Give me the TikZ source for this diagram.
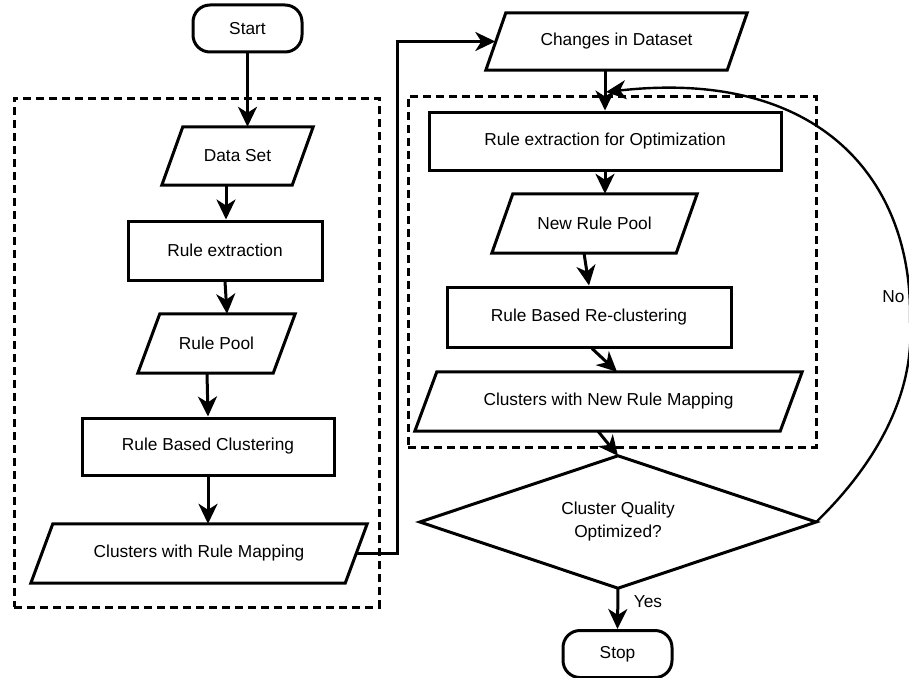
\documentclass[tikz,border=0pt]{standalone}
\usepackage{fontspec}
\setmainfont{Liberation Sans}
\usetikzlibrary{arrows.meta,calc}

\newcommand\lbl{\fontsize{17.3}{23}\selectfont}
% outline of a parallelogram laid over a plain (invisible) node
\newcommand\slantoutline[2]{%
  \draw[outline] ($(#1.north west)+(#2,0)$) -- (#1.north east)
    -- ($(#1.south east)-(#2,0)$) -- (#1.south west) -- cycle;}

\tikzset{
  outline/.style={line width=3pt, line join=miter},
  proc/.style={draw, outline, inner sep=0pt, font=\lbl},
  slant/.style={inner sep=0pt, font=\lbl},
  term/.style={draw, outline, rounded corners=17pt, inner sep=0pt,
    minimum width=109pt, minimum height=47pt, font=\lbl},
  group/.style={draw, line width=3pt, dash pattern=on 8pt off 5pt, inner sep=0pt},
  flow/.style={line width=3pt, -{Stealth[length=20pt,width=19pt,inset=6pt]}},
  loop/.style={line width=2.4pt, -{Stealth[length=20pt,width=19pt,inset=6pt]}},
}

\begin{document}
\begin{tikzpicture}[x=1pt, y=-1pt]
\fill[white] (0,0) rectangle (909,677);
\useasboundingbox (0,0) rectangle (909,677);

% dashed groupings
\node[group, minimum width=365pt, minimum height=509pt] (grpA) at (196.5,352.5) {};
\node[group, minimum width=408pt, minimum height=351pt] (grpB) at (612,271.5) {};

% left column
\node[term] (start) at (247.5,28.5) {Start};
\node[slant, minimum width=151pt, minimum height=58pt] (ds) at (237.5,156) {Data Set};
\node[proc, minimum width=194pt, minimum height=59pt] (re) at (225,250.5) {Rule extraction};
\node[slant, minimum width=157pt, minimum height=59pt] (rp) at (216.5,343.5) {Rule Pool};
\node[proc, minimum width=252pt, minimum height=57pt] (rbc) at (208,446.5) {Rule Based Clustering};
\node[slant, minimum width=336pt, minimum height=59pt] (crm) at (199,553.5) {Clusters with Rule Mapping};

% right column
\node[slant, minimum width=261pt, minimum height=57pt] (cid) at (616.5,41.5) {Changes in Dataset};
\node[proc, minimum width=352pt, minimum height=58pt] (reo) at (605,141) {Rule extraction for Optimization};
\node[slant, minimum width=205pt, minimum height=59pt] (nrp) at (594.5,223.5) {New Rule Pool};
\node[proc, minimum width=284pt, minimum height=60pt] (rbr) at (589,317) {Rule Based Re-clustering};
\node[slant, minimum width=387pt, minimum height=59pt] (cnr) at (608.5,401.5) {Clusters with New Rule Mapping};
\node[inner sep=0pt, minimum width=396pt, minimum height=132pt, align=center, font=\lbl]
  (dia) at (618,522) {Cluster Quality\\Optimized?};
\node[term] (stop) at (617.5,654) {Stop};

% parallelogram and decision outlines
\slantoutline{ds}{21}
\slantoutline{rp}{22}
\slantoutline{crm}{22}
\slantoutline{cid}{20}
\slantoutline{nrp}{21}
\slantoutline{cnr}{22}
\draw[outline] (dia.north) -- (dia.east) -- (dia.south) -- (dia.west) -- cycle;

% connectors, left column
\draw[flow] (start.south) -- (start.south |- ds.north);
\draw[flow] ([xshift=-11.5pt]ds.south) -- ([xshift=1pt]re.north);
\draw[flow] (re.south) -- ([xshift=10.5pt]rp.north);
\draw[flow] ([xshift=-9.5pt]rp.south) -- (rbc.north);
\draw[flow] (rbc.south) -- ([xshift=9pt]crm.north);

% hand-over to the second stage
\coordinate (jog) at (397,0);
\draw[flow, line join=miter] ([xshift=-11pt]crm.east) -| (jog |- cid.west) -- ([xshift=9.5pt]cid.west);

% connectors, right column
\draw[flow] ([xshift=-11.5pt]cid.south) -- (reo.north);
\draw[flow] (reo.south) -- (reo.south |- nrp.north);
\draw[flow] ([xshift=-10.5pt]nrp.south) -- (rbr.north);
\draw[flow] ([xshift=3pt]rbr.south) -- ([xshift=8.5pt]cnr.north);
\draw[flow] ([xshift=-10.5pt]cnr.south) -- (dia.north);
\draw[flow] (dia.south) -- (stop.north);
\node[font=\lbl] (yes) at (648,602) {Yes};

% feedback loop when quality is not yet optimized
\coordinate (merge) at (606,92);
\draw[loop] (dia.east) .. controls (880,460) and (915,390) .. (910,320)
  .. controls (913,180) and (820,68) .. (merge);
\node[font=\lbl] (no) at (893.5,297) {No};
\end{tikzpicture}
\end{document}
